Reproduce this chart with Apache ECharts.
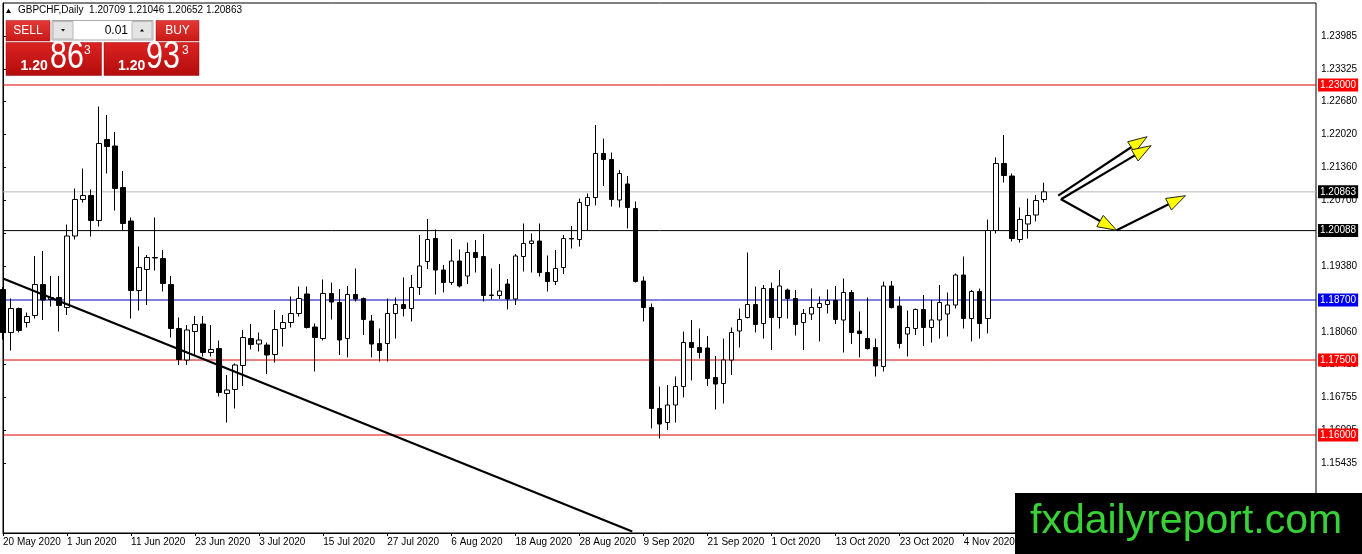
<!DOCTYPE html>
<html>
<head>
<meta charset="utf-8">
<script src="https://cdn.jsdelivr.net/npm/echarts@6/dist/echarts.min.js"></script>
<style>
html,body{margin:0;padding:0;background:#fff;}
#chart{width:1362px;height:554px;}
</style>
</head>
<body>
<div id="chart"></div>
<script>
// ---------- DATA ----------
const dateLabels = ["20 May 2020","1 Jun 2020","11 Jun 2020","23 Jun 2020","3 Jul 2020","15 Jul 2020","27 Jul 2020","6 Aug 2020","18 Aug 2020","28 Aug 2020","9 Sep 2020","21 Sep 2020","1 Oct 2020","13 Oct 2020","23 Oct 2020","4 Nov 2020"];
const slotCount = 165; // bars + empty right shift
const opens = [1.1891,1.1805,1.1853,1.1825,1.1839,1.1901,1.1871,1.1875,1.1855,1.1998,1.2071,1.2079,1.2029,1.2191,1.2178,1.2095,1.2028,1.1889,1.1931,1.1955,1.1953,1.1901,1.1813,1.1750,1.1807,1.1822,1.1765,1.1773,1.1683,1.1691,1.1739,1.1793,1.1782,1.1780,1.1761,1.1813,1.1825,1.1843,1.1882,1.1816,1.1793,1.1883,1.1865,1.1793,1.1881,1.1873,1.1828,1.1783,1.1783,1.1843,1.1861,1.1853,1.1895,1.1947,1.1993,1.1930,1.1905,1.1948,1.1918,1.1965,1.1957,1.1879,1.1879,1.1902,1.1872,1.1957,1.1983,1.1988,1.1925,1.1907,1.1935,1.1993,1.1991,1.2059,1.2075,1.2163,1.2151,1.2070,1.2102,1.2053,1.1908,1.1855,1.1653,1.1625,1.1660,1.1697,1.1785,1.1775,1.1774,1.1715,1.1703,1.1750,1.1808,1.1835,1.1861,1.1823,1.1893,1.1835,1.1890,1.1873,1.1825,1.1842,1.1855,1.1861,1.1869,1.1830,1.1885,1.1808,1.1793,1.1775,1.1737,1.1898,1.1858,1.1802,1.1813,1.1851,1.1815,1.1830,1.1842,1.1860,1.1920,1.1833,1.1887,1.1833,1.2009,1.2143,1.2118,1.1991,1.2022,1.2040,1.20709];
const highs = [1.1896,1.1873,1.1855,1.1845,1.1958,1.1968,1.1918,1.1918,1.2021,1.2093,1.2133,1.2091,1.2257,1.2240,1.2206,1.2128,1.2035,1.1977,1.1960,1.2035,1.1970,1.1918,1.1835,1.1820,1.1838,1.1838,1.1820,1.1789,1.1720,1.1743,1.1810,1.1822,1.1805,1.1785,1.1850,1.1840,1.1877,1.1897,1.1897,1.1823,1.1911,1.1905,1.1892,1.1898,1.1933,1.1875,1.1840,1.1813,1.1873,1.1875,1.1915,1.1920,1.2000,1.2032,1.2011,1.1940,1.1992,1.1971,1.1985,1.1990,1.2002,1.1933,1.1942,1.1912,1.1962,1.2023,1.2003,1.2023,1.1959,1.1970,1.2000,1.2018,1.2073,1.2083,1.2220,1.2193,1.2165,1.2130,1.2118,1.2067,1.1917,1.1863,1.1697,1.1700,1.1717,1.1807,1.1830,1.1813,1.1798,1.1758,1.1793,1.1815,1.1853,1.1965,1.1897,1.1900,1.1905,1.1930,1.1893,1.1890,1.1852,1.1893,1.1877,1.1891,1.1898,1.1913,1.1890,1.1847,1.1875,1.1793,1.1907,1.1908,1.1877,1.1849,1.1853,1.1880,1.1870,1.1900,1.1885,1.1923,1.1957,1.1890,1.1893,1.2031,1.2155,1.2200,1.2123,1.2055,1.2073,1.2080,1.21046];
const lows = [1.1791,1.1769,1.1805,1.1815,1.1833,1.1830,1.1857,1.1807,1.1840,1.1991,1.2065,1.1997,1.2017,1.2123,1.2049,1.2010,1.1833,1.1849,1.1860,1.1929,1.1887,1.1795,1.1740,1.1740,1.1758,1.1757,1.1757,1.1677,1.1625,1.1653,1.1698,1.1771,1.1767,1.1722,1.1745,1.1777,1.1815,1.1837,1.1813,1.1727,1.1789,1.1831,1.1760,1.1755,1.1867,1.1800,1.1755,1.1747,1.1747,1.1793,1.1837,1.1827,1.1880,1.1932,1.1881,1.1885,1.1900,1.1895,1.1902,1.1925,1.1867,1.1871,1.1872,1.1851,1.1860,1.1927,1.1925,1.1917,1.1887,1.1900,1.1922,1.1973,1.1977,1.2009,1.2059,1.2098,1.2057,1.2055,1.2013,1.1905,1.1827,1.1613,1.1593,1.1610,1.1625,1.1675,1.1709,1.1753,1.1698,1.1651,1.1663,1.1720,1.1775,1.1833,1.1805,1.1793,1.1770,1.1813,1.1833,1.1799,1.1770,1.1830,1.1787,1.1843,1.1822,1.1765,1.1782,1.1755,1.1771,1.1717,1.1727,1.1853,1.1773,1.1757,1.1800,1.1778,1.1785,1.1793,1.1797,1.1853,1.1813,1.1787,1.1793,1.1803,1.2003,1.2105,1.1987,1.1985,1.1993,1.2027,1.20652];
const closes = [1.1805,1.1853,1.1809,1.1837,1.1901,1.1870,1.1875,1.1859,1.1998,1.2071,1.2079,1.2029,1.2183,1.2177,1.2093,1.2023,1.1889,1.1935,1.1955,1.1954,1.1903,1.1813,1.1751,1.1810,1.1821,1.1765,1.1771,1.1685,1.1690,1.1740,1.1795,1.1781,1.1790,1.1760,1.1811,1.1825,1.1843,1.1873,1.1815,1.1795,1.1883,1.1866,1.1790,1.1881,1.1872,1.1831,1.1782,1.1769,1.1843,1.1861,1.1853,1.1895,1.1938,1.1991,1.1930,1.1905,1.1948,1.1898,1.1965,1.1955,1.1879,1.1880,1.1888,1.1872,1.1958,1.1983,1.1988,1.1925,1.1907,1.1933,1.1993,1.1992,1.2065,1.2075,1.2163,1.2151,1.2071,1.2123,1.2055,1.1907,1.1855,1.1653,1.1622,1.1660,1.1697,1.1785,1.1775,1.1765,1.1713,1.1702,1.1750,1.1805,1.1831,1.1861,1.1821,1.1893,1.1835,1.1898,1.1873,1.1821,1.1843,1.1855,1.1863,1.1869,1.1831,1.1885,1.1805,1.1803,1.1773,1.1738,1.1898,1.1855,1.1783,1.1815,1.1851,1.1815,1.1830,1.1865,1.1860,1.1920,1.1833,1.1887,1.1823,1.2009,1.2143,1.2119,1.1993,1.2031,1.2039,1.2069,1.20863];
const yTickValues = [1.15435,1.16095,1.16755,1.17415,1.18060,1.18720,1.19380,1.20040,1.20700,1.21360,1.22020,1.22680,1.23325,1.23985];
const levelValues = [1.23000, 1.20863, 1.20088, 1.18700, 1.17500, 1.16000];
const levelKinds  = ['red', 'bid', 'black', 'blue', 'red', 'red'];
const trendLine = [[0, 1.1913], [78.6, 1.1407]];
// arrows: [fromIndex, fromPrice, toIndex, toPrice]
const arrows = [
  [131.8, 1.20786, 142.9, 1.21966],
  [132.2, 1.20720, 143.4, 1.21786],
  [132.1, 1.20720, 139.1, 1.20094],
  [139.1, 1.20094, 147.7, 1.20786]
];
const headerText = 'GBPCHF,Daily  1.20709 1.21046 1.20652 1.20863';

// ---------- BUILD ----------
const FONT = '"Liberation Sans", Arial, sans-serif';
const categories = Array.from({length: slotCount}, (_, i) => String(i));
const candleData = opens.map((o, i) => [o, closes[i], lows[i], highs[i]]);
const kindStyle = {
  red:   {line: '#e00000', bg: '#ff0000'},
  bid:   {line: '#b8b8b8', bg: '#000000'},
  black: {line: '#000000', bg: '#000000'},
  blue:  {line: '#0000c0', bg: '#0000f0'}
};
const levelSeries = levelValues.map((v, i) => {
  const s = kindStyle[levelKinds[i]];
  return {
    type: 'line', xAxisIndex: 1, yAxisIndex: 0, z: 5, symbol: 'none', silent: true,
    data: [[0, v], [slotCount - 1, v]],
    itemStyle: {color: s.line},
    lineStyle: {color: s.line, width: 1},
    endLabel: {
      show: true, formatter: v.toFixed(5), distance: 2,
      backgroundColor: s.bg, color: '#fff', fontSize: 10, fontFamily: FONT, padding: [2, 2, 1, 2]
    }
  };
});

function renderArrow(params, api) {
  const p1 = api.coord([api.value(0), api.value(1)]);
  const p2 = api.coord([api.value(2), api.value(3)]);
  const dx = p2[0] - p1[0], dy = p2[1] - p1[1];
  const len = Math.hypot(dx, dy) || 1;
  const ux = dx / len, uy = dy / len;
  const hl = 19, hw = 6.5;
  const base = [p2[0] - ux * hl, p2[1] - uy * hl];
  const left = [base[0] - uy * hw, base[1] + ux * hw];
  const right = [base[0] + uy * hw, base[1] - ux * hw];
  return {
    type: 'group',
    children: [
      {type: 'line', shape: {x1: p1[0], y1: p1[1], x2: base[0] + ux * 4, y2: base[1] + uy * 4}, style: {stroke: '#000', lineWidth: 2.2}},
      {type: 'polygon', shape: {points: [p2, left, right]}, style: {fill: '#ffff00', stroke: '#222', lineWidth: 1}}
    ]
  };
}

const redGrad = () => new echarts.graphic.LinearGradient(0, 0, 0, 1, [
  {offset: 0, color: '#dc2222'}, {offset: 1, color: '#b30c0c'}
]);
const btnGrad = () => new echarts.graphic.LinearGradient(0, 0, 0, 1, [
  {offset: 0, color: '#e23a36'}, {offset: 1, color: '#c81a16'}
]);

const graphics = [
  // header
  {type: 'polygon', z: 100, shape: {points: [[6, 13], [11, 13], [8.5, 8.5]]}, style: {fill: '#000'}},
  {type: 'text', z: 100, x: 18, y: 10.5, style: {text: headerText, font: '10px ' + FONT, fill: '#000', verticalAlign: 'middle'}},
  // SELL / BUY buttons
  {type: 'rect', z: 100, shape: {x: 6, y: 20.5, width: 44, height: 20.5}, style: {fill: btnGrad(), stroke: '#a01010', lineWidth: 0.5}},
  {type: 'text', z: 101, x: 28, y: 31, style: {text: 'SELL', font: '12px ' + FONT, fill: '#fff', align: 'center', verticalAlign: 'middle'}},
  {type: 'rect', z: 100, shape: {x: 156, y: 20.5, width: 43, height: 20.5}, style: {fill: btnGrad(), stroke: '#a01010', lineWidth: 0.5}},
  {type: 'text', z: 101, x: 177.5, y: 31, style: {text: 'BUY', font: '12px ' + FONT, fill: '#fff', align: 'center', verticalAlign: 'middle'}},
  // spinner
  {type: 'rect', z: 100, shape: {x: 52, y: 20.5, width: 101, height: 19.5}, style: {fill: '#fff', stroke: '#a8a8a8', lineWidth: 1}},
  {type: 'rect', z: 100, shape: {x: 53, y: 21.5, width: 20, height: 17.5}, style: {fill: '#e4e4e4', stroke: '#b8b8b8', lineWidth: 1}},
  {type: 'rect', z: 100, shape: {x: 132, y: 21.5, width: 20, height: 17.5}, style: {fill: '#e4e4e4', stroke: '#b8b8b8', lineWidth: 1}},
  {type: 'polygon', z: 101, shape: {points: [[61, 29], [65, 29], [63, 31.5]]}, style: {fill: '#000'}},
  {type: 'polygon', z: 101, shape: {points: [[140, 31.5], [144, 31.5], [142, 29]]}, style: {fill: '#000'}},
  {type: 'text', z: 101, x: 128, y: 30.5, style: {text: '0.01', font: '12px ' + FONT, fill: '#000', align: 'right', verticalAlign: 'middle'}},
  // price boxes
  {type: 'rect', z: 100, shape: {x: 6, y: 42.5, width: 95.5, height: 33}, style: {fill: redGrad(), stroke: '#9a0a0a', lineWidth: 0.5}},
  {type: 'rect', z: 100, shape: {x: 104, y: 42.5, width: 95, height: 33}, style: {fill: redGrad(), stroke: '#9a0a0a', lineWidth: 0.5}},
  {type: 'text', z: 101, x: 20.5, y: 66, style: {text: '1.20', font: 'bold 14px ' + FONT, fill: '#fff', verticalAlign: 'middle'}},
  {type: 'text', z: 101, x: 50, y: 57.5, scaleX: 0.8, style: {text: '86', font: '38px ' + FONT, fill: '#fff', verticalAlign: 'middle'}},
  {type: 'text', z: 101, x: 84, y: 51, style: {text: '3', font: '12px ' + FONT, fill: '#fff', verticalAlign: 'middle'}},
  {type: 'text', z: 101, x: 118, y: 66, style: {text: '1.20', font: 'bold 14px ' + FONT, fill: '#fff', verticalAlign: 'middle'}},
  {type: 'text', z: 101, x: 146, y: 57.5, scaleX: 0.8, style: {text: '93', font: '38px ' + FONT, fill: '#fff', verticalAlign: 'middle'}},
  {type: 'text', z: 101, x: 182, y: 51, style: {text: '3', font: '12px ' + FONT, fill: '#fff', verticalAlign: 'middle'}},
  // watermark
  {type: 'rect', z: 200, shape: {x: 1015, y: 493, width: 347, height: 61}, style: {fill: '#000'}},
  {type: 'text', z: 201, x: 1030, y: 522, style: {text: 'fxdailyreport.com', font: '41px ' + FONT, fill: '#36d236', verticalAlign: 'middle'}}
];

const chart = echarts.init(document.getElementById('chart'), null, {renderer: 'canvas'});
chart.setOption({
  animation: false,
  backgroundColor: '#fff',
  grid: {left: 3, right: 46, top: 3, bottom: 21, show: true, borderColor: '#000', borderWidth: 1, backgroundColor: '#fff'},
  xAxis: [
    {
      type: 'category', data: categories, boundaryGap: false,
      axisLine: {show: true, lineStyle: {color: '#000', width: 1}},
      axisTick: {show: true, interval: 7, length: 3, lineStyle: {color: '#000'}},
      axisLabel: {
        interval: 7, align: 'left', margin: 4, color: '#000', fontSize: 10, fontFamily: FONT,
        formatter: (v, idx) => (idx % 8 === 0 && dateLabels[idx / 8]) ? dateLabels[idx / 8] : ''
      },
      splitLine: {show: false}
    },
    {type: 'value', min: 0, max: slotCount - 1, show: false, splitLine: {show: false}}
  ],
  yAxis: {
    type: 'value', position: 'right', min: 1.1404, max: 1.2464,
    splitLine: {show: false}, splitArea: {show: false}, minorSplitLine: {show: false},
    axisLine: {show: true, lineStyle: {color: '#000'}},
    axisTick: {show: true, customValues: yTickValues, length: 3, lineStyle: {color: '#000'}},
    axisLabel: {customValues: yTickValues, formatter: v => v.toFixed(5), color: '#000', fontSize: 10, fontFamily: FONT, margin: 5}
  },
  series: [
    {
      type: 'candlestick', xAxisIndex: 0, yAxisIndex: 0, data: candleData, barWidth: 5, clip: true, z: 6,
      itemStyle: {color: '#fff', color0: '#000', borderColor: '#000', borderColor0: '#000', borderWidth: 1}
    },
    ...levelSeries,
    {
      type: 'line', xAxisIndex: 1, yAxisIndex: 0, data: trendLine, symbol: 'none', clip: true,
      lineStyle: {color: '#000', width: 2.2}, z: 7
    },
    {
      type: 'custom', xAxisIndex: 1, yAxisIndex: 0, data: arrows, renderItem: renderArrow,
      encode: {x: [0, 2], y: [1, 3]}, z: 8, clip: false
    }
  ],
  graphic: graphics
});
</script>
</body>
</html>
